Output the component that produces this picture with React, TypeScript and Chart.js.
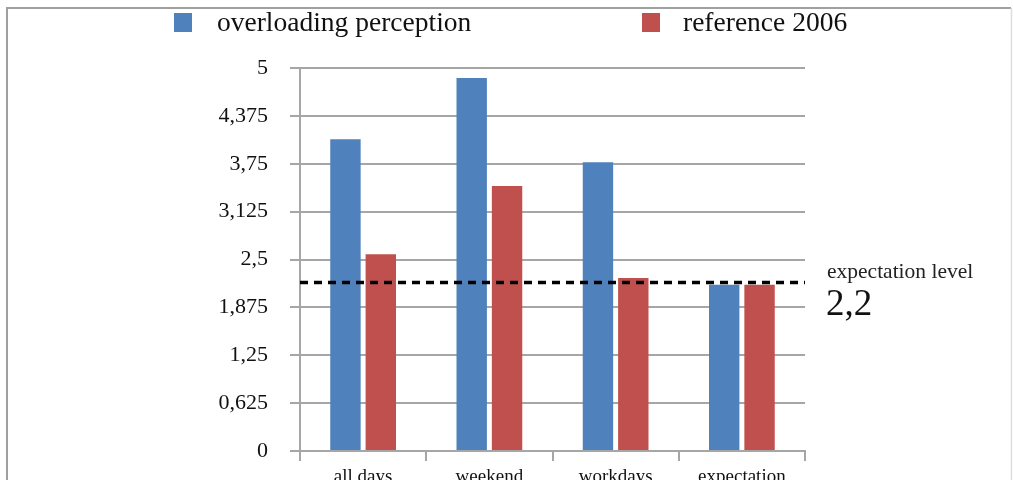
import React, { useEffect, useRef } from "react";
import { Chart, registerables } from "chart.js";

Chart.register(...registerables);

const categories = ["all days", "weekend", "workdays", "expectation"];
const seriesNames = ["overloading perception", "reference 2006"];
const overloadingPerception = [4.07, 4.87, 3.77, 2.17];
const reference2006 = [2.57, 3.46, 2.26, 2.17];
const yTickValues = [0, 0.625, 1.25, 1.875, 2.5, 3.125, 3.75, 4.375, 5];
const yTickLabels = ["0", "0,625", "1,25", "1,875", "2,5", "3,125", "3,75", "4,375", "5"];
const expectationLevel = 2.2;
const expectationText = "expectation level";
const expectationValueText = "2,2";

const BLUE = "#4f81bd";
const RED = "#c0504d";
const GRID = "#a6a6a6";
const SERIF = "'Liberation Serif', 'DejaVu Serif', serif";

const decorPlugin = {
  id: "decor",
  beforeDraw(chart: any) {
    const ctx = chart.ctx;
    ctx.save();
    ctx.fillStyle = "#ffffff";
    ctx.fillRect(0, 0, chart.width, chart.height);
    // frame
    ctx.strokeStyle = "#a0a0a0";
    ctx.lineWidth = 2;
    ctx.beginPath();
    ctx.moveTo(7, chart.height);
    ctx.lineTo(7, 8);
    ctx.lineTo(1011, 8);
    ctx.stroke();
    ctx.strokeStyle = "#dddddd";
    ctx.lineWidth = 1.5;
    ctx.beginPath();
    ctx.moveTo(1011.5, 8);
    ctx.lineTo(1011.5, chart.height);
    ctx.stroke();
    ctx.restore();
  },
  afterDatasetsDraw(chart: any) {
    const ctx = chart.ctx;
    const y = chart.scales.y.getPixelForValue(expectationLevel);
    const { left, right } = chart.chartArea;
    ctx.save();
    ctx.strokeStyle = "#000000";
    ctx.lineWidth = 3.5;
    ctx.setLineDash([8, 6]);
    ctx.beginPath();
    ctx.moveTo(left, y);
    ctx.lineTo(right, y);
    ctx.stroke();
    ctx.restore();
  },
  afterDraw(chart: any) {
    const ctx = chart.ctx;
    ctx.save();
    // legend
    const items = [
      { x: 174, tx: 217 },
      { x: 642, tx: 683 },
    ];
    chart.data.datasets.forEach((ds: any, i: number) => {
      const it = items[i];
      ctx.fillStyle = ds.backgroundColor;
      ctx.fillRect(it.x, 13, 18, 19);
      ctx.fillStyle = "#111111";
      ctx.font = `27.5px ${SERIF}`;
      ctx.textBaseline = "alphabetic";
      ctx.textAlign = "left";
      ctx.fillText(ds.label, it.tx, 31);
    });
    // annotation
    ctx.fillStyle = "#222222";
    ctx.font = `21.5px ${SERIF}`;
    ctx.fillText(expectationText, 827, 278);
    ctx.fillStyle = "#111111";
    ctx.font = `37px ${SERIF}`;
    ctx.fillText(expectationValueText, 826, 315);
    ctx.restore();
  },
};

export default function App() {
  const ref = useRef<HTMLCanvasElement | null>(null);

  useEffect(() => {
    document.body.style.margin = "0";
    document.documentElement.style.overflow = "hidden";
    const canvas = ref.current;
    if (!canvas) return;
    const chart = new Chart(canvas, {
      type: "bar",
      data: {
        labels: categories,
        datasets: [
          {
            label: seriesNames[0],
            data: overloadingPerception,
            backgroundColor: BLUE,
            borderWidth: 0,
            categoryPercentage: 0.56,
            barPercentage: 0.86,
          },
          {
            label: seriesNames[1],
            data: reference2006,
            backgroundColor: RED,
            borderWidth: 0,
            categoryPercentage: 0.56,
            barPercentage: 0.86,
          },
        ],
      },
      options: {
        animation: false,
        responsive: false,
        maintainAspectRatio: false,
        devicePixelRatio: 1,
        layout: { padding: { left: 210, right: 208, top: 68, bottom: 0 } },
        plugins: {
          legend: { display: false },
          tooltip: { enabled: false },
        },
        scales: {
          x: {
            grid: {
              display: true,
              drawOnChartArea: false,
              drawTicks: true,
              tickLength: 10,
              color: GRID,
              lineWidth: 2,
              offset: true,
            },
            border: { display: true, color: GRID, width: 2 },
            ticks: {
              font: { family: SERIF, size: 19 },
              color: "#111111",
              padding: 5,
              maxRotation: 0,
            },
            afterFit: (s: any) => {
              s.height = 29;
            },
          },
          y: {
            min: 0,
            max: 5,
            afterBuildTicks: (s: any) => {
              s.ticks = yTickValues.map((v) => ({ value: v }));
            },
            grid: {
              color: GRID,
              lineWidth: 2,
              tickLength: 10,
              drawTicks: true,
            },
            border: { display: true, color: GRID, width: 2 },
            ticks: {
              font: { family: SERIF, size: 22 },
              color: "#111111",
              padding: 22,
              callback: (_v: any, i: number) => yTickLabels[i],
            },
            afterFit: (s: any) => {
              s.width = 90;
              s.paddingTop = 0;
              s.paddingBottom = 0;
            },
          },
        },
      },
      plugins: [decorPlugin],
    });
    return () => chart.destroy();
  }, []);

  return <canvas ref={ref} width={1013} height={480} style={{ display: "block", width: 1013, height: 480 }} />;
}
